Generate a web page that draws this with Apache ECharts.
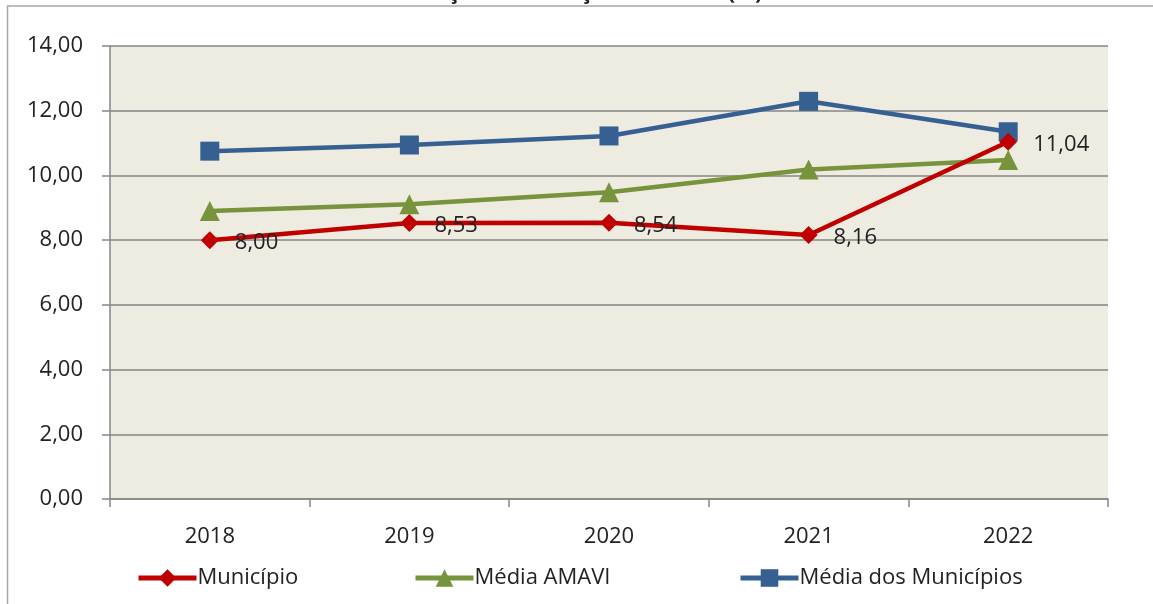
<!DOCTYPE html>
<html><head><meta charset="utf-8">
<script src="https://cdn.jsdelivr.net/npm/echarts@6/dist/echarts.min.js"></script>
<style>html,body{margin:0;padding:0;background:#fff}#c{width:1153px;height:604px}</style>
</head><body><div id="c"></div>
<script>
const titleText = 'Gráfico 03 – Evolução do Esforço Tributário (%): 2018 – 2022';
const categories = ['2018', '2019', '2020', '2021', '2022'];
const municipio = [8.00, 8.53, 8.54, 8.16, 11.04];
const mediaAmavi = [8.90, 9.11, 9.48, 10.18, 10.48];
const mediaMunicipios = [10.75, 10.94, 11.22, 12.29, 11.35];
const seriesNames = ['Município', 'Média AMAVI', 'Média dos Municípios'];
const yTicks = [0, 2, 4, 6, 8, 10, 12, 14];

const FONT = '"Open Sans", Lato, sans-serif';
const FS = 22;
const fmt = v => v.toFixed(2).replace('.', ',');
const chart = echarts.init(document.getElementById('c'), null, {renderer: 'canvas'});
const legendBase = {
  bottom: 10, itemWidth: 58, itemHeight: 22,
  lineStyle: {width: 5},
  textStyle: {fontFamily: FONT, fontSize: FS, color: '#222', padding: [0, 0, 0, -4]}
};
chart.setOption({
  animation: false,
  backgroundColor: '#ffffff',
  textStyle: {fontFamily: FONT},
  title: {text: titleText, left: 'center', top: -23,
    textStyle: {fontFamily: FONT, fontSize: 22, fontWeight: 'bold', color: '#222'}},
  graphic: [
    {type: 'line', shape: {x1: 7, y1: 6, x2: 1153, y2: 6}, style: {stroke: '#a6a6a6', lineWidth: 1.5}, z: -1},
    {type: 'line', shape: {x1: 7.5, y1: 6, x2: 7.5, y2: 604}, style: {stroke: '#a6a6a6', lineWidth: 1.5}, z: -1}
  ],
  grid: {left: 110, right: 45, top: 46, bottom: 105, show: true, backgroundColor: '#EEEBE0', borderWidth: 0},
  legend: [
    Object.assign({}, legendBase, {left: 131, data: [seriesNames[0]]}),
    Object.assign({}, legendBase, {left: 408, data: [seriesNames[1]]}),
    Object.assign({}, legendBase, {left: 733, data: [seriesNames[2]]})
  ],
  xAxis: {
    type: 'category', data: categories, boundaryGap: true,
    axisLine: {lineStyle: {color: '#868686', width: 1.5}},
    axisTick: {show: true, inside: false, length: 8, lineStyle: {color: '#868686', width: 1.5}},
    axisLabel: {fontFamily: FONT, fontSize: FS, color: '#222', margin: 27},
    splitLine: {show: false}
  },
  yAxis: {
    type: 'value', min: yTicks[0], max: yTicks[yTicks.length - 1], interval: 2,
    axisLine: {show: true, lineStyle: {color: '#868686', width: 1.5}},
    axisTick: {show: true, length: 8, lineStyle: {color: '#868686', width: 1.5}},
    axisLabel: {fontFamily: FONT, fontSize: FS, color: '#222', margin: 27, formatter: v => fmt(v)},
    splitLine: {show: true, lineStyle: {color: '#868686', width: 1.5}}
  },
  series: [
    {
      name: seriesNames[0], type: 'line', data: municipio, z: 5,
      symbol: 'diamond', symbolSize: 18,
      lineStyle: {color: '#C00000', width: 4.5}, itemStyle: {color: '#C00000'},
      label: {show: true, position: 'right', distance: 16, offset: [0, 3], formatter: p => fmt(p.value),
        fontFamily: FONT, fontSize: FS, color: '#222'}
    },
    {
      name: seriesNames[1], type: 'line', data: mediaAmavi, z: 3,
      symbol: 'triangle', symbolSize: 20,
      lineStyle: {color: '#77933C', width: 4.5}, itemStyle: {color: '#77933C'}
    },
    {
      name: seriesNames[2], type: 'line', data: mediaMunicipios, z: 4,
      symbol: 'rect', symbolSize: 19,
      lineStyle: {color: '#376092', width: 4.5}, itemStyle: {color: '#376092'}
    }
  ]
});
</script></body></html>
